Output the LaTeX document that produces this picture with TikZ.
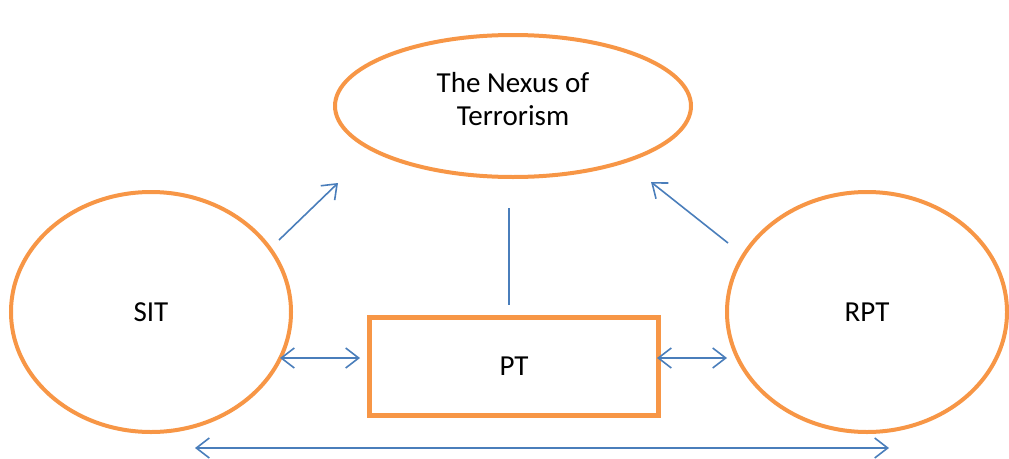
\documentclass[tikz,border=0pt]{standalone}
\usepackage{fontspec}
\setmainfont{Carlito}
\usetikzlibrary{shapes.geometric,arrows.meta}
\definecolor{orng}{HTML}{F79646}
\definecolor{blu}{HTML}{4A7EBB}
\tikzset{
  txt/.style={font=\fontsize{29}{33}\selectfont,align=center,inner sep=0pt},
  oval/.style={ellipse,draw=orng,line width=4pt,inner sep=0pt,txt},
  boxnode/.style={rectangle,draw=orng,line width=5pt,inner sep=0pt,txt},
  conn/.style={draw=blu,line width=1.6pt},
  tip/.style={-{Straight Barb[length=13pt,width=20pt,line width=1.6pt]}},
  ttip/.style={{Straight Barb[length=13pt,width=20pt,line width=1.6pt]}-{Straight Barb[length=13pt,width=20pt,line width=1.6pt]}}
}
\begin{document}
\begin{tikzpicture}[x=1pt,y=-1pt]
\useasboundingbox (0,0) rectangle (1009,458);
\node[oval,minimum width=356pt,minimum height=142pt] (nexus) at (513,106) {};
\node[txt] (nexustxt) at (513,99) {The Nexus of\\Terrorism};
\node[oval,minimum width=280pt,minimum height=240pt] (sit) at (151,312) {SIT};
\node[oval,minimum width=280pt,minimum height=240pt] (rpt) at (867,312) {RPT};
\node[boxnode,minimum width=289pt,minimum height=98pt] (pt) at (514,366) {PT};
\coordinate (a1s) at (279,240);
\coordinate (a1e) at (338,183);
\coordinate (a2s) at (728,243);
\coordinate (a2e) at (651,182);
\coordinate (vs) at (509,208);
\coordinate (ve) at (509,305);
\coordinate (l1) at (280,358);
\coordinate (l2) at (360,358);
\coordinate (r1) at (657,358);
\coordinate (r2) at (727,358);
\coordinate (b1) at (195,448);
\coordinate (b2) at (889,448);
\draw[conn,tip] (a1s) -- (a1e);
\draw[conn,tip] (a2s) -- (a2e);
\draw[conn] (vs) -- (ve);
\draw[conn,ttip] (l1) -- (l2);
\draw[conn,ttip] (r1) -- (r2);
\draw[conn,ttip] (b1) -- (b2);
\end{tikzpicture}
\end{document}
